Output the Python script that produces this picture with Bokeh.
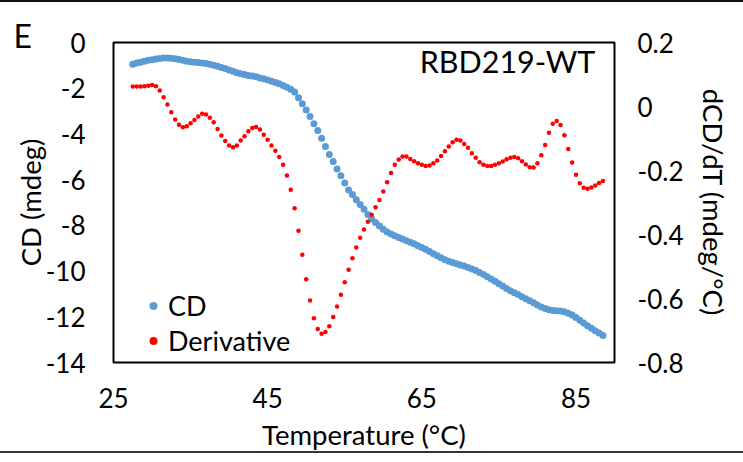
from bokeh.plotting import figure
from bokeh.models import (Range1d, LinearAxis, FixedTicker, Legend, LegendItem,
                          Label, ColumnDataSource)
from bokeh.embed import file_html
from bokeh.resources import INLINE

# ---------------- data ----------------
temperature = [27.5 + 0.5 * i for i in range(123)]

cd_mdeg = [
    -0.95, -0.90, -0.86, -0.82, -0.78, -0.75, -0.72, -0.70, -0.68, -0.68,
    -0.69, -0.71, -0.74, -0.78, -0.82, -0.84, -0.86, -0.88, -0.90, -0.92,
    -0.95, -0.99, -1.04, -1.09, -1.14, -1.20, -1.26, -1.32, -1.37, -1.40,
    -1.44, -1.47, -1.50, -1.55, -1.59, -1.64, -1.70, -1.75, -1.81, -1.88,
    -1.96, -2.05, -2.17, -2.42, -2.68, -2.95, -3.24, -3.56, -3.85, -4.19,
    -4.55, -4.90, -5.21, -5.53, -5.83, -6.15, -6.45, -6.65, -6.88, -7.09,
    -7.30, -7.52, -7.72, -7.88, -8.03, -8.17, -8.29, -8.38, -8.46, -8.53,
    -8.60, -8.67, -8.74, -8.81, -8.89, -8.97, -9.05, -9.14, -9.24, -9.33,
    -9.42, -9.50, -9.57, -9.63, -9.68, -9.73, -9.78, -9.84, -9.91, -9.98,
    -10.06, -10.15, -10.25, -10.35, -10.45, -10.55, -10.65, -10.76, -10.86, -10.95,
    -11.03, -11.12, -11.21, -11.30, -11.39, -11.48, -11.57, -11.64, -11.69, -11.72,
    -11.74, -11.75, -11.78, -11.84, -11.92, -12.03, -12.15, -12.27, -12.39, -12.50,
    -12.61, -12.71, -12.82,
]

derivative = [
    0.0625, 0.0625, 0.0625, 0.063, 0.065, 0.067, 0.063, 0.050, 0.029, 0.006,
    -0.018, -0.041, -0.057, -0.065, -0.062, -0.052, -0.042, -0.031, -0.023, -0.025,
    -0.035, -0.049, -0.070, -0.091, -0.108, -0.122, -0.127, -0.122, -0.106, -0.093,
    -0.077, -0.067, -0.064, -0.072, -0.088, -0.104, -0.122, -0.138, -0.158, -0.182,
    -0.216, -0.260, -0.318, -0.388, -0.463, -0.540, -0.606, -0.662, -0.695, -0.710,
    -0.705, -0.687, -0.658, -0.625, -0.588, -0.549, -0.510, -0.474, -0.441, -0.410,
    -0.384, -0.360, -0.338, -0.315, -0.292, -0.266, -0.237, -0.208, -0.182, -0.166,
    -0.156, -0.156, -0.164, -0.171, -0.177, -0.182, -0.186, -0.184, -0.177, -0.169,
    -0.155, -0.140, -0.125, -0.112, -0.104, -0.106, -0.117, -0.129, -0.146, -0.160,
    -0.174, -0.182, -0.186, -0.186, -0.182, -0.177, -0.172, -0.165, -0.160, -0.158,
    -0.162, -0.171, -0.181, -0.190, -0.191, -0.177, -0.152, -0.120, -0.082, -0.054,
    -0.045, -0.058, -0.090, -0.133, -0.175, -0.213, -0.240, -0.254, -0.257, -0.253,
    -0.247, -0.239, -0.233,
]

x_ticks = [25, 45, 65, 85]
x_tick_labels = ["25", "45", "65", "85"]
left_ticks = [0, -2, -4, -6, -8, -10, -12, -14]
left_tick_labels = ["0", "-2", "-4", "-6", "-8", "-10", "-12", "-14"]
right_ticks = [0.2, 0.0, -0.2, -0.4, -0.6, -0.8]
right_tick_labels = ["0.2", "0", "-0.2", "-0.4", "-0.6", "-0.8"]

series_names = ["CD", "Derivative"]
panel_letter = "E"
sample_name = "RBD219-WT"
x_label = "Temperature (°C)"
left_label = "CD (mdeg)"
right_label = "dCD/dT (mdeg/°C)"

FONT = "Lato"

# ---------------- figure ----------------
p = figure(width=743, height=453, output_backend="svg", toolbar_location=None,
           x_range=Range1d(25, 90), y_range=Range1d(-14, 0),
           min_border_left=113, min_border_right=129,
           min_border_top=40, min_border_bottom=93)
p.extra_y_ranges = {"d": Range1d(-0.8, 0.2)}
p.xgrid.visible = False
p.ygrid.visible = False
p.outline_line_color = "black"
p.outline_line_width = 2
p.background_fill_color = "white"
p.border_fill_color = "white"
p.styles = {"border-top": "2px solid #111", "border-bottom": "2px solid #333"}

p.title.text = panel_letter
p.title.text_font = FONT
p.title.text_font_size = "32px"
p.title.text_font_style = "normal"
p.title.text_color = "black"
p.title.align = "left"
p.title.offset = -100
p.title.standoff = -24

def style_axis(ax, ticks, labels, standoff, lab_standoff):
    ax.ticker = FixedTicker(ticks=ticks)
    ax.major_label_overrides = {t: l for t, l in zip(ticks, labels)}
    ax.axis_line_color = None
    ax.major_tick_line_color = None
    ax.minor_tick_line_color = None
    ax.major_tick_out = 0
    ax.major_tick_in = 0
    ax.major_label_standoff = standoff
    ax.major_label_text_font = FONT
    ax.major_label_text_font_size = "26px"
    ax.major_label_text_color = "black"
    ax.axis_label_text_font = FONT
    ax.axis_label_text_font_size = "27.5px"
    ax.axis_label_text_font_style = "normal"
    ax.axis_label_text_color = "black"
    ax.axis_label_standoff = lab_standoff

xa = p.xaxis[0]
xa.axis_label = x_label
style_axis(xa, x_ticks, x_tick_labels, 25, 7)

ya = p.yaxis[0]
ya.axis_label = left_label
style_axis(ya, left_ticks, left_tick_labels, 28, -4)

ra = LinearAxis(y_range_name="d", axis_label=right_label)
style_axis(ra, right_ticks, right_tick_labels, 23, 11)
p.add_layout(ra, "right")

src_cd = ColumnDataSource(dict(t=temperature, v=cd_mdeg))
src_d = ColumnDataSource(dict(t=temperature, v=derivative))
r_cd = p.scatter("t", "v", source=src_cd, size=7, color="#5B9BD5", line_color=None)
r_d = p.scatter("t", "v", source=src_d, size=4.5, color="#FF0000", line_color=None,
                y_range_name="d")

def make_legend(name, renderer, loc):
    return Legend(items=[LegendItem(label=name, renderers=[renderer])],
                  location=loc, padding=0, margin=0, border_line_color=None,
                  background_fill_alpha=0, glyph_width=20, glyph_height=35,
                  label_height=35, spacing=0, label_standoff=5,
                  label_text_font=FONT, label_text_font_size="27px",
                  label_text_color="black")

p.add_layout(make_legend(series_names[0], r_cd, (30, 39)))
p.add_layout(make_legend(series_names[1], r_d, (30, 4)))

p.add_layout(Label(x=87.5, y=-0.83, text=sample_name, text_align="right",
                   text_baseline="alphabetic", text_font=FONT,
                   text_font_size="30.5px", text_color="black"))

open("out.html", "w").write(file_html(p, INLINE))
